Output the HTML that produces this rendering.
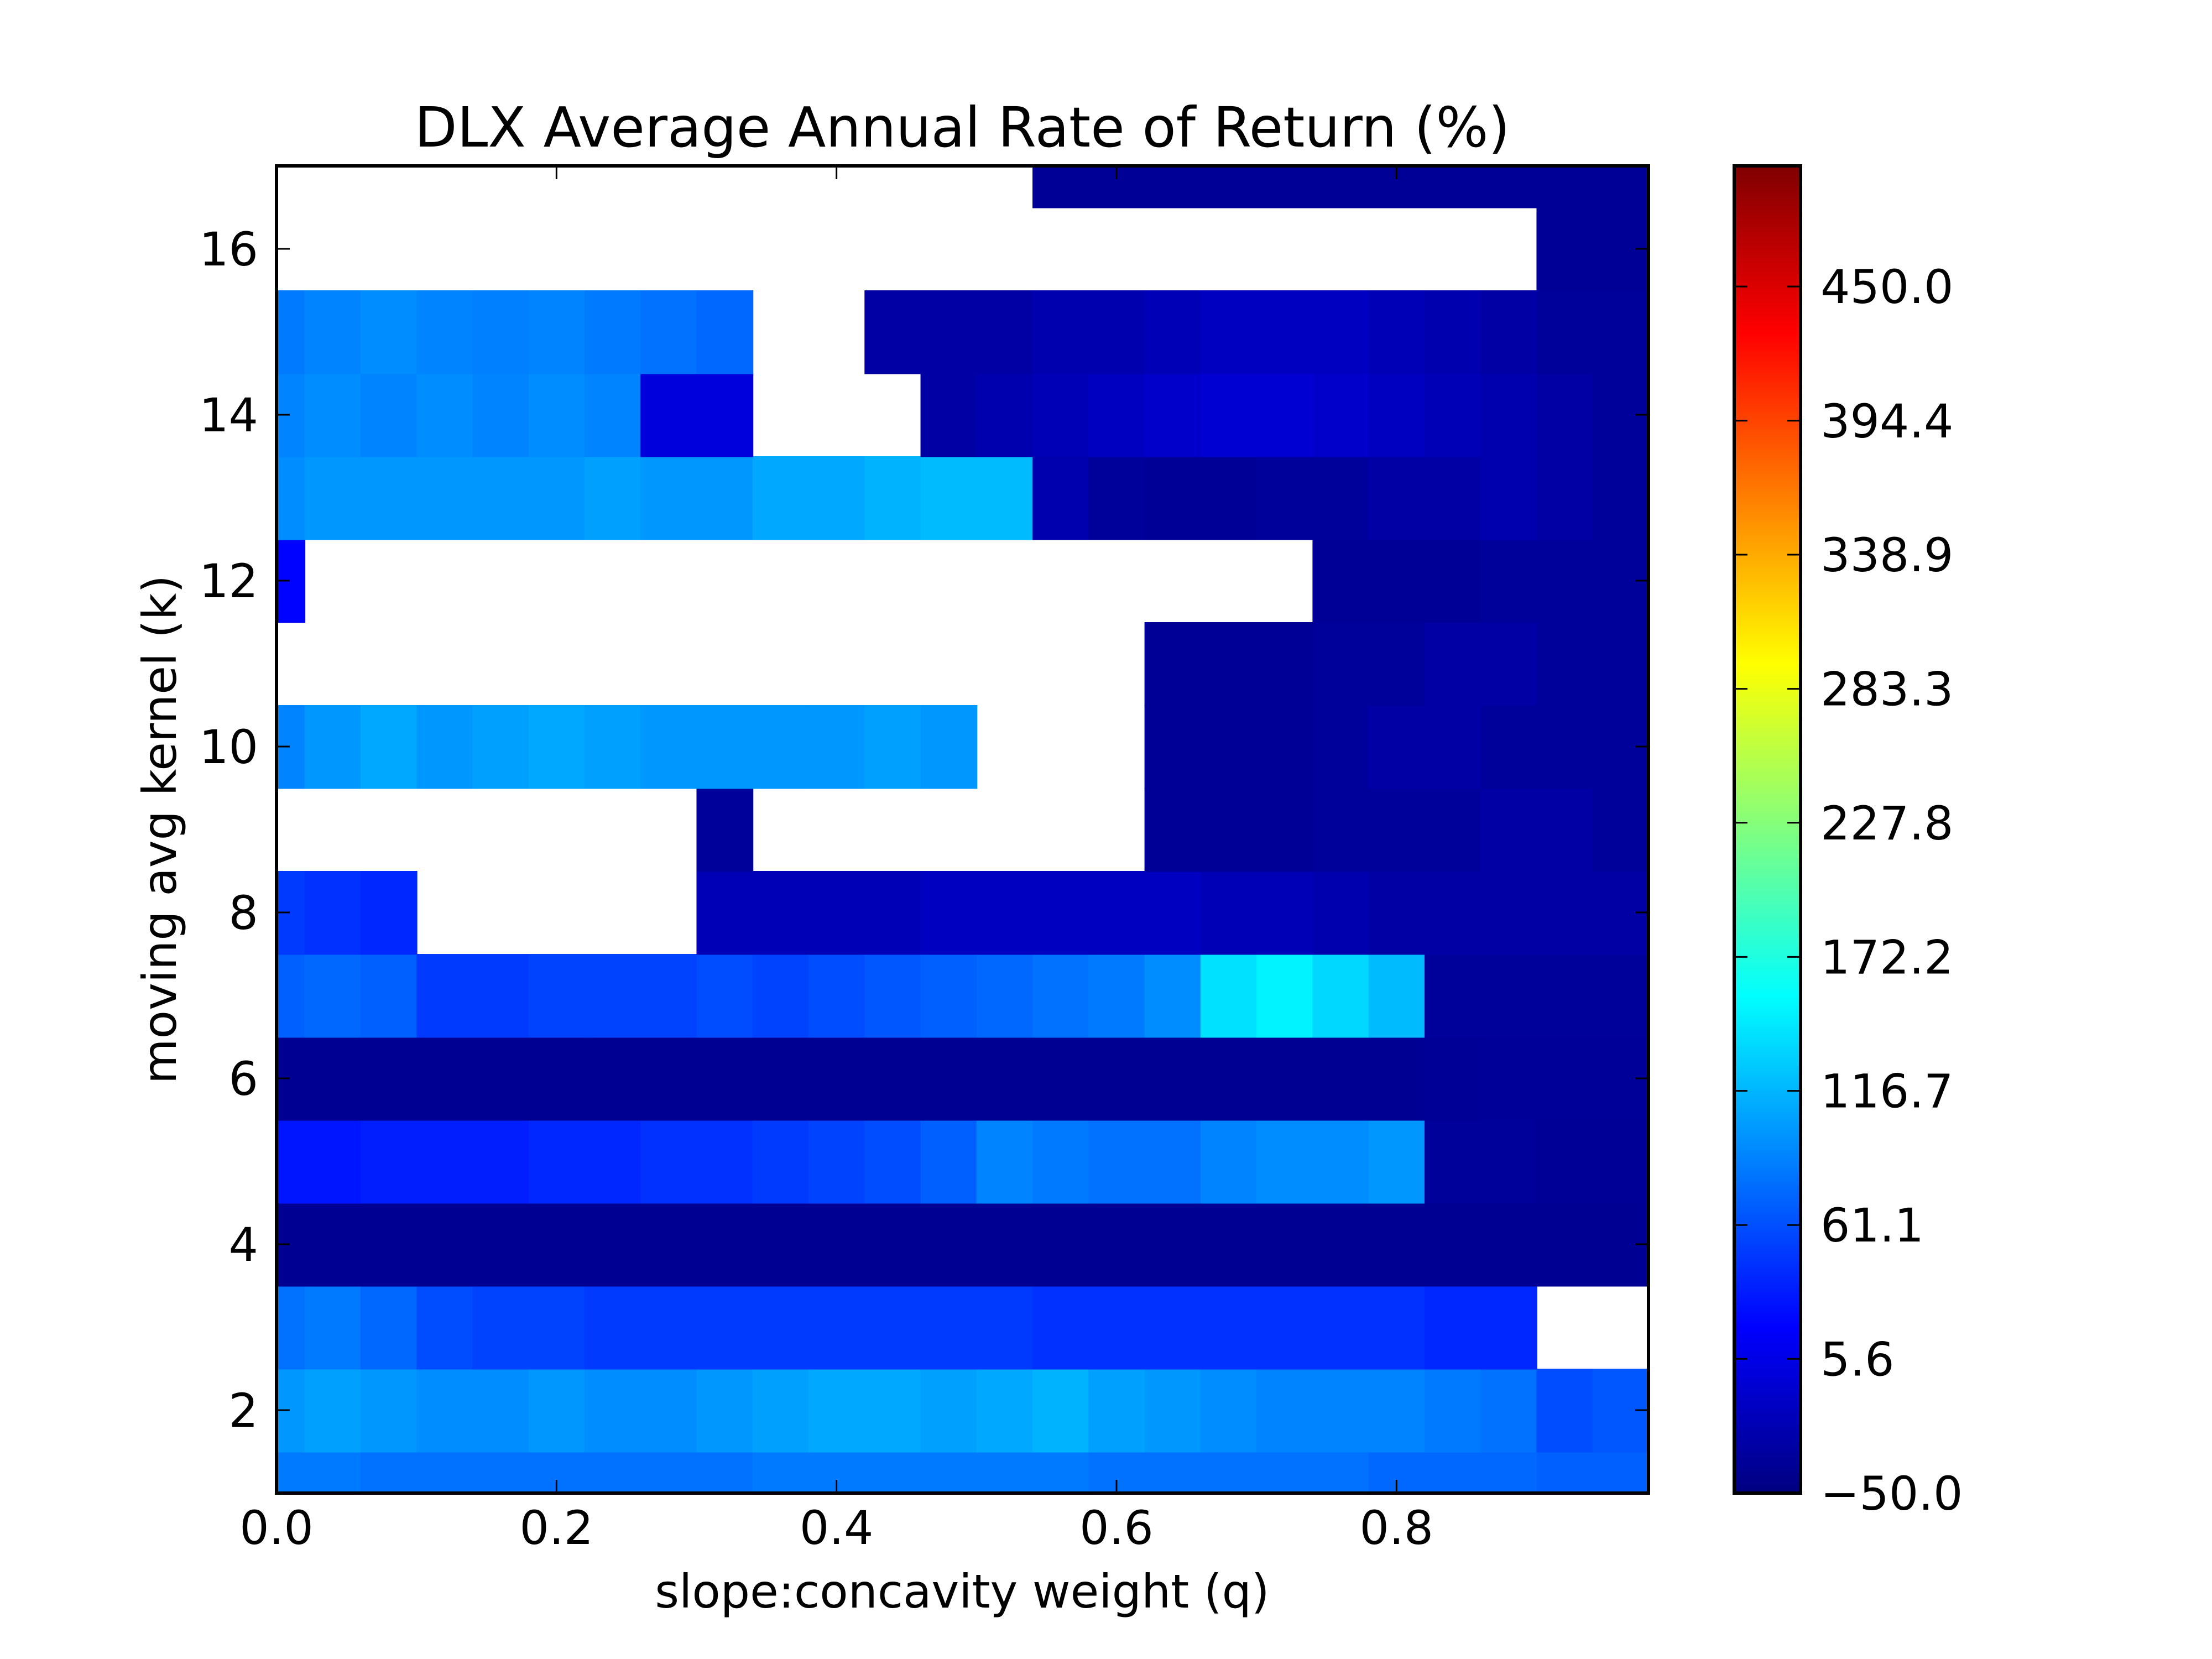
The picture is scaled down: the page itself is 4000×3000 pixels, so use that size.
<!DOCTYPE html>
<html><head><meta charset="utf-8"><style>
html,body{margin:0;padding:0;background:#fff;}
svg{display:block;font-family:"DejaVu Sans","Liberation Sans",sans-serif;}
</style></head><body>
<svg id="chart" width="4000" height="3000" viewBox="0 0 4000 3000" xmlns="http://www.w3.org/2000/svg">
<rect width="4000" height="3000" fill="#fff"/>
<text x="1740" y="265" font-size="100" text-anchor="middle">DLX Average Annual Rate of Return (%)</text>
<defs><clipPath id="pc"><rect x="500" y="300" width="2481" height="2400"/></clipPath></defs>
<g id="cells" clip-path="url(#pc)"></g>
<g id="axes"></g>
<text x="1740" y="2907" font-size="84" text-anchor="middle">slope:concavity weight (q)</text>
<text transform="translate(318,1500) rotate(-90)" font-size="84" text-anchor="middle">moving avg kernel (k)</text>
<g id="cbar"></g>
</svg>
<script>
const N = null;
const qValues = [0,0.04,0.08,0.12,0.16,0.20,0.24,0.28,0.32,0.36,0.40,0.44,0.48,0.52,0.56,0.60,0.64,0.68,0.72,0.76,0.80,0.84,0.88,0.92,0.96];
const kValues = [1,2,3,4,5,6,7,8,9,10,11,12,13,14,15,16,17];
const row1 = [85,85,80,80,80,80,80,80,80,85,85,85,85,85,85,80,80,80,80,80,75,75,75,70,70];
const row2 = [100,105,100,95,95,100,95,95,100,105,110,110,105,110,115,105,100,95,90,90,90,85,80,60,65];
const row3 = [80,85,75,60,55,55,50,50,50,50,50,50,50,50,45,45,45,45,45,45,45,40,40,N,N];
const row4 = [-40,-40,-40,-40,-40,-40,-40,-40,-40,-40,-40,-40,-40,-40,-40,-40,-40,-40,-40,-40,-40,-40,-40,-40,-40];
const row5 = [30,30,35,35,35,40,40,45,45,50,55,60,70,90,85,80,80,90,95,95,100,-35,-35,-38,-38];
const row6 = [-40,-40,-40,-40,-40,-40,-40,-40,-40,-40,-40,-40,-40,-40,-40,-40,-40,-40,-40,-40,-40,-38,-36,-36,-36];
const row7 = [70,75,70,50,50,55,55,55,60,55,60,65,70,75,80,85,95,140,150,135,120,-35,-35,-35,-35];
const row8 = [50,45,40,N,N,N,N,N,-20,-20,-20,-20,-15,-15,-15,-15,-15,-20,-20,-25,-30,-30,-30,-30,-30];
const row9 = [N,N,N,N,N,N,N,N,-35,N,N,N,N,N,N,N,-38,-38,-38,-35,-35,-35,-30,-30,-35];
const row10 = [90,100,110,100,105,110,105,100,100,100,100,105,100,N,N,N,-38,-38,-38,-35,-30,-30,-35,-35,-35];
const row11 = [N,N,N,N,N,N,N,N,N,N,N,N,N,N,N,N,-38,-38,-38,-35,-35,-30,-30,-35,-35];
const row12 = [20,N,N,N,N,N,N,N,N,N,N,N,N,N,N,N,N,N,N,-38,-38,-38,-35,-35,-35];
const row13 = [95,100,100,100,100,100,105,100,100,110,110,115,120,120,-25,-35,-38,-38,-35,-35,-30,-30,-25,-30,-35];
const row14 = [90,95,90,95,90,95,90,0,0,N,N,N,-30,-25,-20,-15,-10,-5,-5,-10,-15,-20,-25,-30,-35];
const row15 = [85,90,95,90,88,90,85,80,75,N,N,-30,-30,-30,-25,-25,-20,-15,-15,-15,-20,-25,-30,-35,-35];
const row16 = [N,N,N,N,N,N,N,N,N,N,N,N,N,N,N,N,N,N,N,N,N,N,N,-38,-38];
const row17 = [N,N,N,N,N,N,N,N,N,N,N,N,N,N,-38,-38,-38,-38,-38,-38,-38,-38,-38,-38,-38];
const grid = [row1,row2,row3,row4,row5,row6,row7,row8,row9,row10,row11,row12,row13,row14,row15,row16,row17];
const xTicks = [0,0.2,0.4,0.6,0.8];
const xTickLabels = ["0.0","0.2","0.4","0.6","0.8"];
const yTicks = [2,4,6,8,10,12,14,16];
const cbTicks = [-50.0,5.6,61.1,116.7,172.2,227.8,283.3,338.9,394.4,450.0];
const cbTickLabels = ["\u221250.0","5.6","61.1","116.7","172.2","227.8","283.3","338.9","394.4","450.0"];

const NS = "http://www.w3.org/2000/svg";
const PX0=500, PX1=2981, PY0=300, PY1=2700;
const Q0=0, Q1=0.98, K0=1, K1=17, VMIN=-50, VMAX=500;
const xs = q => PX0 + (q-Q0)/(Q1-Q0)*(PX1-PX0);
const ys = k => PY1 - (k-K0)/(K1-K0)*(PY1-PY0);
const cy = v => PY1 - (v-VMIN)/(VMAX-VMIN)*(PY1-PY0);
function clamp(a){return Math.max(0,Math.min(1,a));}
function jet(v){
  const f=clamp((v-VMIN)/(VMAX-VMIN));
  const r=clamp(1.5-Math.abs(4*f-3)), g=clamp(1.5-Math.abs(4*f-2)), b=clamp(1.5-Math.abs(4*f-1));
  return `rgb(${Math.round(r*255)},${Math.round(g*255)},${Math.round(b*255)})`;
}
function mk(tag, attrs, parent){
  const e=document.createElementNS(NS,tag);
  for(const a in attrs) e.setAttribute(a,attrs[a]);
  parent.appendChild(e); return e;
}
const cells=document.getElementById('cells');
const dq=0.04;
kValues.forEach((k,ri)=>{
  qValues.forEach((q,ci)=>{
    const v=grid[ri][ci];
    if(v===null) return;
    const x0=xs(q-dq/2), x1=xs(q+dq/2), y0=ys(k+0.5), y1=ys(k-0.5);
    const r=mk('rect',{x:x0,y:y0,width:x1-x0+1.5,height:y1-y0+1.5,fill:jet(v)},cells);
    
    
  });
});
const ax=document.getElementById('axes');
const frame=mk('rect',{x:PX0,y:PY0,width:PX1-PX0,height:PY1-PY0,fill:'none',stroke:'#000','stroke-width':6},ax);


xTicks.forEach((t,i)=>{
  const x=xs(t);
  mk('line',{x1:x,y1:PY1,x2:x,y2:PY1-24,stroke:'#000','stroke-width':3},ax);
  mk('line',{x1:x,y1:PY0,x2:x,y2:PY0+24,stroke:'#000','stroke-width':3},ax);
  const tx=mk('text',{x:x,y:2792,'font-size':84,'text-anchor':'middle'},ax);
  tx.textContent=xTickLabels[i];
  
  
});
yTicks.forEach(t=>{
  const y=ys(t);
  mk('line',{x1:PX0,y1:y,x2:PX0+24,y2:y,stroke:'#000','stroke-width':3},ax);
  mk('line',{x1:PX1,y1:y,x2:PX1-24,y2:y,stroke:'#000','stroke-width':3},ax);
  const tx=mk('text',{x:467,y:y+30,'font-size':84,'text-anchor':'end'},ax);
  tx.textContent=String(t);
  
  
});
const cb=document.getElementById('cbar');
const CX0=3136, CX1=3256;
const nSeg=300;
for(let i=0;i<nSeg;i++){
  const v0=VMIN+(VMAX-VMIN)*i/nSeg, v1=VMIN+(VMAX-VMIN)*(i+1)/nSeg;
  mk('rect',{x:CX0,y:cy(v1),width:CX1-CX0,height:cy(v0)-cy(v1)+1,fill:jet((v0+v1)/2)},cb);
}
const cbf=mk('rect',{x:CX0,y:PY0,width:CX1-CX0,height:PY1-PY0,fill:'none',stroke:'#000','stroke-width':6},cb);


cbTicks.forEach((t,i)=>{
  const y=cy(t);
  mk('line',{x1:CX1,y1:y,x2:CX1-24,y2:y,stroke:'#000','stroke-width':3},cb);
  mk('line',{x1:CX0,y1:y,x2:CX0+24,y2:y,stroke:'#000','stroke-width':3},cb);
  const tx=mk('text',{x:3292,y:y+30,'font-size':84},cb);
  tx.textContent=cbTickLabels[i];
  
  
});
</script>
</body></html>
